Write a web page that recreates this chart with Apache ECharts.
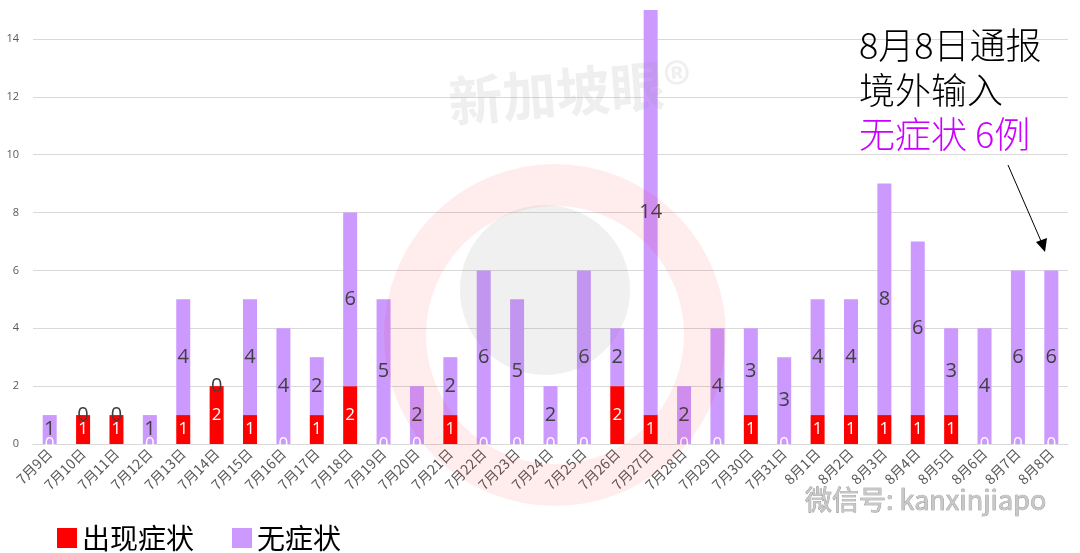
<!DOCTYPE html>
<html>
<head>
<meta charset="utf-8">
<script src="https://cdn.jsdelivr.net/npm/echarts@6/dist/echarts.min.js"></script>
<style>html,body{margin:0;padding:0;background:#fff}#c{width:1080px;height:553px}</style>
</head>
<body>
<div id="c"></div>
<script>
const categories = ['7月9日','7月10日','7月11日','7月12日','7月13日','7月14日','7月15日','7月16日','7月17日','7月18日','7月19日','7月20日','7月21日','7月22日','7月23日','7月24日','7月25日','7月26日','7月27日','7月28日','7月29日','7月30日','7月31日','8月1日','8月2日','8月3日','8月4日','8月5日','8月6日','8月7日','8月8日'];
const symptomatic = [0,1,1,0,1,2,1,0,1,2,0,0,1,0,0,0,0,2,1,0,0,1,0,1,1,1,1,1,0,0,0];
const asymptomatic = [1,0,0,1,4,0,4,4,2,6,5,2,2,6,5,2,6,2,14,2,4,3,3,4,4,8,6,3,4,6,6];
const seriesNames = ['出现症状','无症状'];
const noteLines = ['8月8日通报','境外输入','无症状 6例'];

const font = 'Noto Sans CJK SC';
const chart = echarts.init(document.getElementById('c'));
const gridColors = ['#d9d9d9','#d9d9d9','#d9d9d9','#d9d9d9','#d9d9d9','#d9d9d9','#d9d9d9','#d9d9d9','rgba(0,0,0,0)'];
chart.setOption({
  animation: false,
  textStyle: {fontFamily: font},
  grid: {left: 33, right: 12, top: 10, bottom: 109, containLabel: false},
  legend: {
    data: seriesNames, left: 52, top: 519, itemWidth: 20, itemHeight: 20, itemGap: 38,
    icon: 'rect',
    textStyle: {fontSize: 28, color: '#000', fontFamily: font}
  },
  xAxis: {
    type: 'category', data: categories,
    axisLine: {lineStyle: {color: '#d9d9d9', width: 1}},
    axisTick: {show: false},
    axisLabel: {rotate: 45, fontSize: 14, color: '#595959', interval: 0, margin: 7}
  },
  yAxis: {
    type: 'value', min: 0, max: 15, interval: 2,
    axisLine: {show: false}, axisTick: {show: false},
    axisLabel: {fontSize: 11, color: '#595959', showMaxLabel: false, margin: 14, fontFamily: 'Open Sans'},
    splitLine: {lineStyle: {color: gridColors, width: 1}}
  },
  series: [
    {
      name: seriesNames[0], type: 'bar', stack: 'a', data: symptomatic, barWidth: 14,
      itemStyle: {color: '#ff0000'},
      label: {show: true, position: 'inside', color: '#fff', fontSize: 17, fontFamily: 'Open Sans'}
    },
    {
      name: seriesNames[1], type: 'bar', stack: 'a', data: asymptomatic, barWidth: 14,
      itemStyle: {color: '#cc99ff'},
      label: {show: true, position: 'inside', color: '#404040', fontSize: 20, fontFamily: 'Open Sans'}
    }
  ],
  graphic: [
    {type: 'circle', shape: {cx: 555, cy: 335, r: 150}, style: {fill: 'none', stroke: 'rgba(255,0,0,0.07)', lineWidth: 42}, z: 100, silent: true},
    {type: 'circle', shape: {cx: 545, cy: 290, r: 85}, style: {fill: 'rgba(120,120,120,0.11)'}, z: 100, silent: true},
    {type: 'text', x: 570, y: 92, rotation: 0.08, style: {text: '新加坡眼®', fill: 'rgba(150,150,150,0.15)', font: 'bold 54px "Noto Sans CJK SC"', textAlign: 'center', textVerticalAlign: 'middle'}, z: 100, silent: true},
    {type: 'text', x: 805, y: 500, style: {text: '微信号: kanxinjiapo', fill: '#c8c8c8', stroke: '#8a8a8a', lineWidth: 0.7, font: '27px "Noto Sans CJK SC"', textVerticalAlign: 'middle'}, z: 100, silent: true},
    {type: 'text', x: 859, y: 45, style: {text: noteLines[0], fill: '#000', font: '300 36px "Noto Sans CJK SC"', textVerticalAlign: 'middle'}, z: 100},
    {type: 'text', x: 859, y: 90, style: {text: noteLines[1], fill: '#000', font: '300 36px "Noto Sans CJK SC"', textVerticalAlign: 'middle'}, z: 100},
    {type: 'text', x: 859, y: 134, style: {text: noteLines[2], fill: '#cc00ff', font: '300 36px "Noto Sans CJK SC"', textVerticalAlign: 'middle'}, z: 100},
    {type: 'line', shape: {x1: 1008, y1: 165, x2: 1044, y2: 248}, style: {stroke: '#000', lineWidth: 1}, z: 100},
    {type: 'polygon', shape: {points: [[1045, 252], [1036, 242], [1047, 238]]}, style: {fill: '#000'}, z: 100}
  ]
});
</script>
</body>
</html>
